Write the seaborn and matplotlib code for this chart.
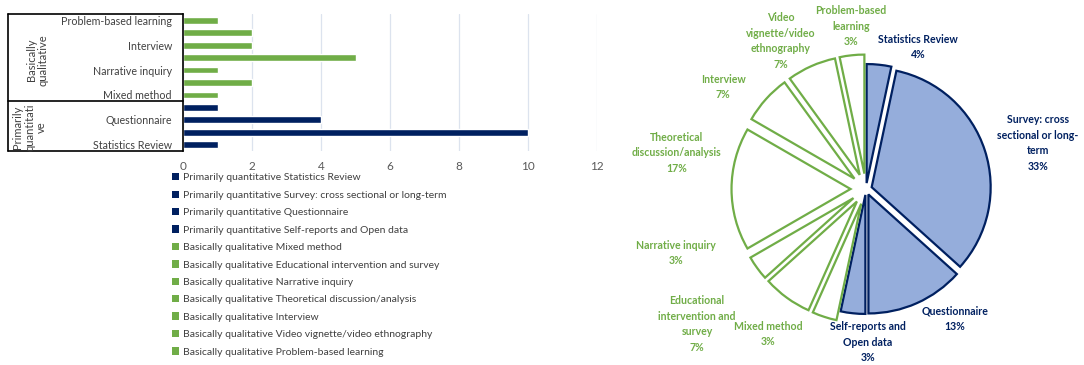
import matplotlib
matplotlib.use("Agg")
import numpy as np
import pandas as pd
import matplotlib.pyplot as plt
import seaborn as sns
from matplotlib.patches import Patch
from matplotlib.transforms import blended_transform_factory

# ─── Data (bottom-to-top order of the bar chart / clockwise in the pie) ─────
methods = ["Statistics Review", "Survey: cross sectional or long-term",
           "Questionnaire", "Self-reports and Open data",
           "Mixed method", "Educational intervention and survey",
           "Narrative inquiry", "Theoretical discussion/analysis",
           "Interview", "Video vignette/video ethnography",
           "Problem-based learning"]
groups = ["Primarily quantitative"] * 4 + ["Basically qualitative"] * 7
counts = [1, 10, 4, 1, 1, 2, 1, 5, 2, 2, 1]
pie_labels = ["Statistics Review\n4%", "Survey: cross\nsectional or long-\nterm\n33%",
              "Questionnaire\n13%", "Self-reports and\nOpen data\n3%",
              "Mixed method\n3%", "Educational\nintervention and\nsurvey\n7%",
              "Narrative inquiry\n3%", "Theoretical\ndiscussion/analysis\n17%",
              "Interview\n7%", "Video\nvignette/video\nethnography\n7%",
              "Problem-based\nlearning\n3%"]

# label placement (pixels from pie centre, y downwards) - layout only
label_offsets = [(52, -142), (172, -46), (89, 130), (2, 153), (-98, 145),
                 (-169, 135), (-190, 64), (-189, -36), (-143, -102),
                 (-85, -148), (-15, -163)]

NAVY = "#002060"
GREEN = "#70AD47"
BLUE_FILL = "#95ADDB"
colors = {"Primarily quantitative": NAVY, "Basically qualitative": GREEN}

sns.set_style("white")
plt.rcParams["font.family"] = ["Lato", "DejaVu Sans"]

W, H = 1084, 365
fig = plt.figure(figsize=(W / 100, H / 100), dpi=100)

# ─── Bar chart ───────────────────────────────────────────────────────────────
ax = fig.add_axes([183 / W, (H - 151) / H, 414 / W, 137 / H])
df = pd.DataFrame({"method": methods[::-1], "group": groups[::-1], "count": counts[::-1]})
sns.barplot(data=df, y="method", x="count", hue="group", palette=colors,
            dodge=False, width=0.55, orient="h", legend=False, ax=ax,
            order=df["method"].tolist(), saturation=1)
ax.set_xlim(0, 12)
ax.set_ylim(10.5, -0.5)
ax.set_xticks(range(0, 13, 2))
ax.xaxis.grid(True, color="#DCE3EE", lw=0.9)
ax.set_axisbelow(True)
ax.set_xlabel("")
ax.set_ylabel("")
for s in ["top", "right", "bottom"]:
    ax.spines[s].set_visible(False)
ax.spines["left"].set_color("black")
ax.spines["left"].set_linewidth(1.2)
ylabels = [m if i % 2 == 0 else "" for i, m in enumerate(df["method"])]
ax.set_yticks(range(len(ylabels)))
ax.set_yticklabels(ylabels, fontsize=7.7, color="#404040")
ax.tick_params(axis="x", labelsize=8.5, colors="#595959", length=0, pad=7)
ax.tick_params(axis="y", length=0, pad=8)

# group boxes on the left
tr = blended_transform_factory(ax.transAxes, ax.transData)
xl = -0.423
for yv in [-0.5, 6.5, 10.5]:
    ax.plot([xl, 0], [yv, yv], color="black", lw=1.2, transform=tr, clip_on=False)
ax.plot([xl, xl], [-0.5, 10.5], color="black", lw=1.2, transform=tr, clip_on=False)
ax.text(-0.352, 3.2, "Basically\nqualitative", rotation=90, ha="center", va="center",
        fontsize=8, color="#404040", transform=tr, linespacing=1.1)
ax.text(-0.37, 8.6, "Primarily\nquantitati\nve", rotation=90, ha="center", va="center",
        fontsize=8, color="#404040", transform=tr, linespacing=1.1)

# legend
handles = [Patch(facecolor=colors[g], edgecolor="none") for g in groups]
legend_labels = [f"{g} {m}" for g, m in zip(groups, methods)]
fig.legend(handles, legend_labels, loc="upper left",
           bbox_to_anchor=(168 / W, (H - 169) / H), frameon=False,
           fontsize=7.5, handlelength=0.7, handleheight=0.7, handletextpad=0.35,
           labelspacing=0.78, labelcolor="#404040", borderaxespad=0)

# ─── Pie chart ───────────────────────────────────────────────────────────────
cx, cy, half = 866, 189, 180
pax = fig.add_axes([(cx - half) / W, (H - cy - half) / H, 2 * half / W, 2 * half / H])
r_px = 119
lim = half / r_px
fills = [BLUE_FILL if g == "Primarily quantitative" else "white" for g in groups]
edges = [colors[g] for g in groups]
explode = [0.05 if g == "Primarily quantitative" else 0.13 for g in groups]
wedges, texts = pax.pie(counts, startangle=90, counterclock=False,
                        explode=explode, labels=pie_labels, labeldistance=1.0,
                        wedgeprops=dict(linewidth=1.6),
                        textprops=dict(fontsize=7.6, fontweight="bold", ha="center",
                                       va="center", linespacing=1.55))
for w, fc, ec in zip(wedges, fills, edges):
    w.set_facecolor(fc)
    w.set_edgecolor(ec)
for t, g, (dx, dy) in zip(texts, groups, label_offsets):
    t.set_position((dx / r_px, -dy / r_px))
    t.set_color(colors[g])
    t.set_ha("center")
    t.set_va("center")
pax.set_xlim(-lim, lim)
pax.set_ylim(-lim, lim)
pax.set_aspect("equal")
pax.axis("off")

fig.savefig("out.png", dpi=100)
